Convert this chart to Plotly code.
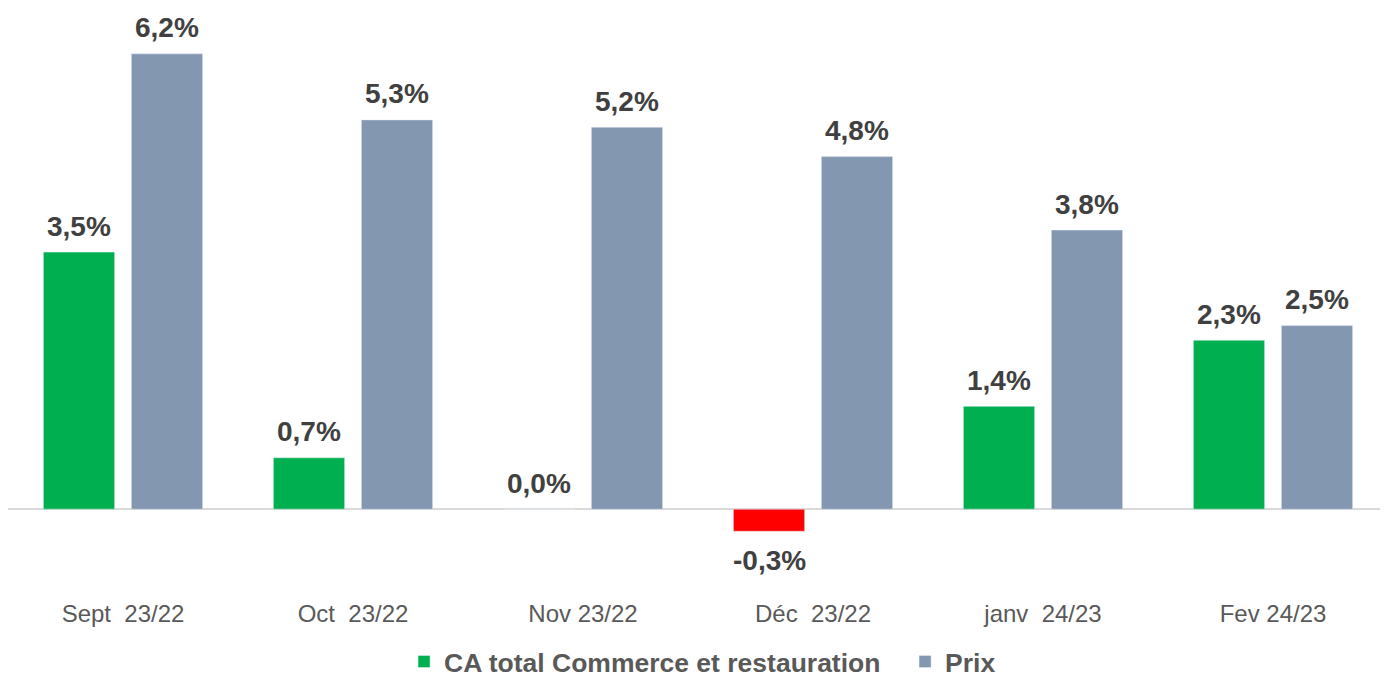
import plotly.graph_objects as go

months = ['Sept  23/22', 'Oct  23/22', 'Nov 23/22', 'Déc  23/22', 'janv  24/23', 'Fev 24/23']
ca_total = [3.5, 0.7, 0.0, -0.3, 1.4, 2.3]
prix = [6.2, 5.3, 5.2, 4.8, 3.8, 2.5]

green = '#00B050'
grey_blue = '#8497B0'
red = '#FF0000'


def pct(v):
    return '{:.1f}%'.format(v).replace('.', ',')


ca_colors = [red if v < 0 else green for v in ca_total]

fig = go.Figure()

fig.add_trace(
    go.Bar(
        name='CA total Commerce et restauration',
        x=months,
        y=ca_total,
        marker=dict(color=ca_colors)))

fig.add_trace(
    go.Bar(
        name='Prix',
        x=months,
        y=prix,
        marker=dict(color=grey_blue)))

# value labels above (or below) each bar, shifted onto the bar of the group
for values, shift in [(ca_total, -44), (prix, 44)]:
    for month, v in zip(months, values):
        fig.add_annotation(
            x=month,
            y=v,
            xshift=shift,
            yshift=-29 if v < 0 else 26,
            text=pct(v),
            showarrow=False,
            yanchor='middle',
            font=dict(size=28, color='#404040', weight='bold'))

fig.update_layout(
    autosize=False,
    width=1380,
    height=669,
    margin=dict(l=0, r=0, t=12, b=87, autoexpand=False),
    plot_bgcolor='white',
    paper_bgcolor='white',
    barmode='group',
    bargap=0.235,
    bargroupgap=0.19,
    font=dict(family='Liberation Sans, Arial', color='#595959'),
    showlegend=True,
    legend=dict(
        orientation='h',
        x=0.287,
        xanchor='left',
        y=-0.168,
        yanchor='bottom',
        font=dict(size=26.5, color='#595959', weight='bold'),
        itemwidth=30,
        entrywidth=456,
        traceorder='normal'))

fig.update_xaxes(
    showgrid=False,
    showline=False,
    automargin=False,
    ticks='outside',
    ticklen=2,
    tickcolor='white',
    tickfont=dict(size=24, color='#595959'))

fig.update_yaxes(
    range=[-1.1, 6.66],
    automargin=False,
    showgrid=False,
    showticklabels=False,
    zeroline=True,
    zerolinecolor='#D9D9D9',
    zerolinewidth=2)

fig.write_html('out.html')
